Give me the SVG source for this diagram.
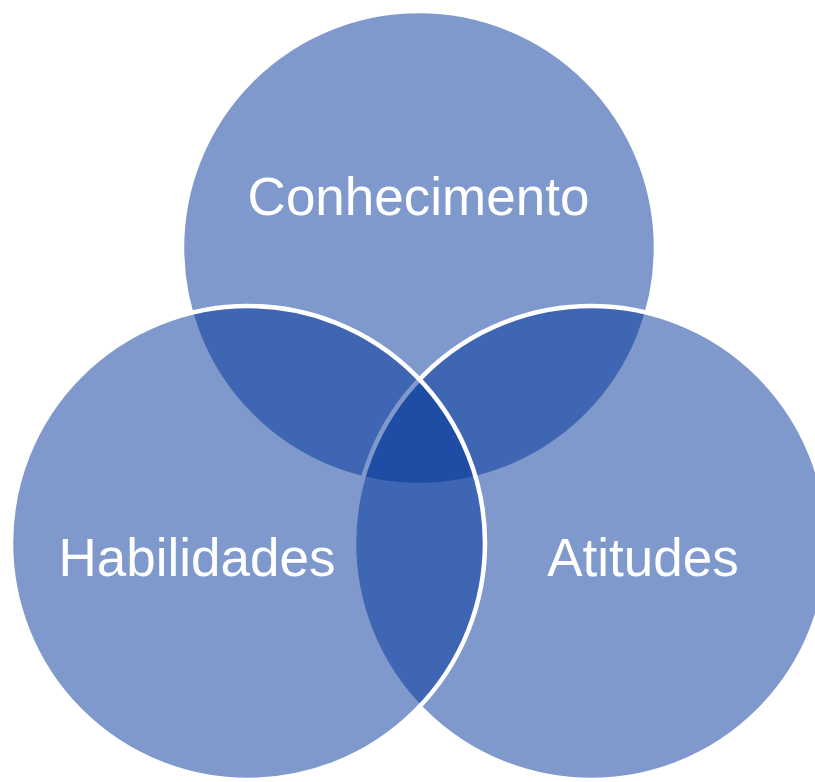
<svg xmlns="http://www.w3.org/2000/svg" width="815" height="782" viewBox="0 0 815 782">
<style>
.c{fill:#003399;fill-opacity:0.5;stroke:#ffffff;stroke-width:4.5}
.t{font-family:"Liberation Sans",Arial,sans-serif;font-size:53px;fill:#ffffff;text-anchor:middle}
</style>
<rect width="815" height="782" fill="#ffffff"/>
<g id="conhecimento"><circle class="c" cx="419" cy="248" r="237"/></g>
<g id="atitudes"><circle class="c" cx="591" cy="543" r="237"/></g>
<g id="habilidades"><circle class="c" cx="248" cy="543" r="237"/></g>
<g id="labels">
<text class="t" x="418.5" y="215">Conhecimento</text>
<text class="t" x="197" y="576">Habilidades</text>
<text class="t" x="643" y="576">Atitudes</text>
</g>
<g id="connectors"/>
</svg>
